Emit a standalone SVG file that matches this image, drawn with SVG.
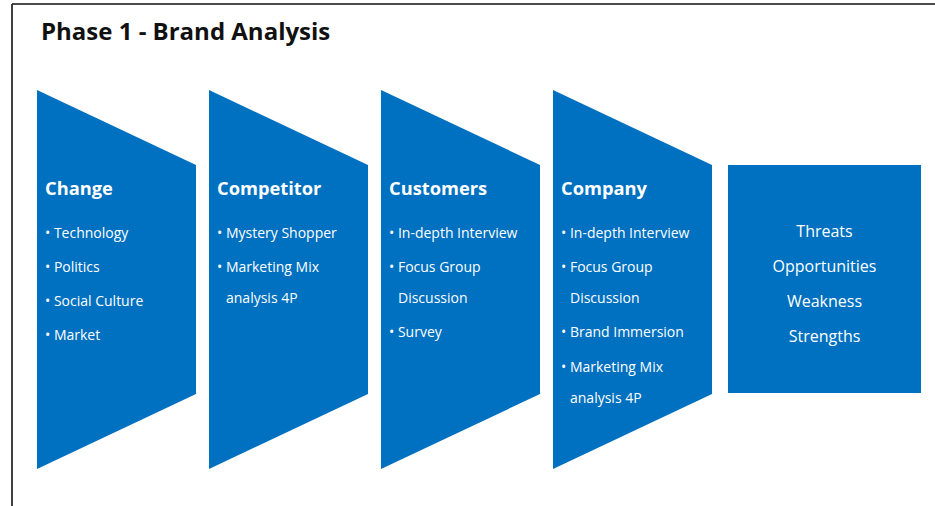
<svg xmlns="http://www.w3.org/2000/svg" width="935" height="506" viewBox="0 0 935 506">
  <style>
    .frame { stroke: #111; stroke-width: 1.6; fill: none; }
    .title { font-family: "Open Sans", "Noto Sans", "Liberation Sans", sans-serif; font-weight: 700; font-size: 24px; fill: #111; }
    .block { fill: #0070c0; }
    .head { font-family: "Open Sans", "Noto Sans", "Liberation Sans", sans-serif; font-weight: 700; font-size: 18.3px; fill: #ffffff; }
    .item { font-family: "Open Sans", "Noto Sans", "Liberation Sans", sans-serif; font-size: 14px; fill: #ffffff; }
    .swot { font-family: "Open Sans", "Noto Sans", "Liberation Sans", sans-serif; font-size: 16px; fill: #ffffff; text-anchor: middle; }
  </style>
  <defs>
    <!-- chevron-like panel: slanted top and bottom edges -->
    <path id="panel" d="M0,90 L159,165 L159,394 L0,469 Z"/>
  </defs>

  <rect x="0" y="0" width="935" height="506" fill="#ffffff"/>

  <!-- page frame (top and left rules) -->
  <path class="frame" d="M12,4 H935 M12,4 V506"/>

  <text class="title" x="41" y="40">Phase 1 - Brand Analysis</text>

  <g id="change">
    <use href="#panel" class="block" x="37"/>
    <text class="head" x="45" y="195">Change</text>
    <text class="item" x="45" y="238">• Technology</text>
    <text class="item" x="45" y="272">• Politics</text>
    <text class="item" x="45" y="306">• Social Culture</text>
    <text class="item" x="45" y="340">• Market</text>
  </g>

  <g id="competitor">
    <use href="#panel" class="block" x="209"/>
    <text class="head" x="217" y="195">Competitor</text>
    <text class="item" x="217" y="238">• Mystery Shopper</text>
    <text class="item" x="217" y="272">• Marketing Mix</text>
    <text class="item" x="226" y="303">analysis 4P</text>
  </g>

  <g id="customers">
    <use href="#panel" class="block" x="381"/>
    <text class="head" x="389" y="195">Customers</text>
    <text class="item" x="389" y="238">• In-depth Interview</text>
    <text class="item" x="389" y="272">• Focus Group</text>
    <text class="item" x="398" y="303">Discussion</text>
    <text class="item" x="389" y="337">• Survey</text>
  </g>

  <g id="company">
    <use href="#panel" class="block" x="553"/>
    <text class="head" x="561" y="195">Company</text>
    <text class="item" x="561" y="238">• In-depth Interview</text>
    <text class="item" x="561" y="272">• Focus Group</text>
    <text class="item" x="570" y="303">Discussion</text>
    <text class="item" x="561" y="337">• Brand Immersion</text>
    <text class="item" x="561" y="372">• Marketing Mix</text>
    <text class="item" x="570" y="403">analysis 4P</text>
  </g>

  <g id="swot">
    <rect class="block" x="728" y="165" width="193" height="228"/>
    <text class="swot" x="824.5" y="237">Threats</text>
    <text class="swot" x="824.5" y="272">Opportunities</text>
    <text class="swot" x="824.5" y="307">Weakness</text>
    <text class="swot" x="824.5" y="342">Strengths</text>
  </g>

  <g id="connectors"/>
</svg>
